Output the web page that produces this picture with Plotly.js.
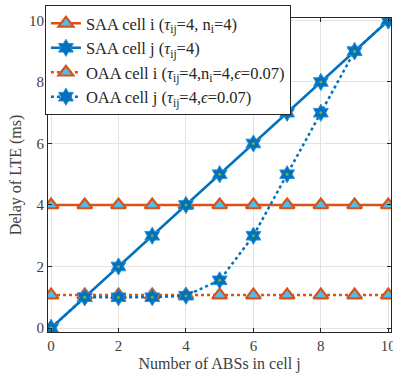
<!DOCTYPE html>
<html><head><meta charset="utf-8">
<script src="https://cdn.plot.ly/plotly-3.0.1.min.js"></script>
<style>html,body{margin:0;padding:0;background:#fff}#plot{width:393px;height:379px}</style>
</head><body><div id="plot"></div>
<script>
const xVals = [0,1,2,3,4,5,6,7,8,9,10];
const saaCellI = [4,4,4,4,4,4,4,4,4,4,4];
const saaCellJ = [0,1,2,3,4,5,6,7,8,9,10];
const oaaCellI = [1.07,1.07,1.07,1.07,1.07,1.07,1.07,1.07,1.07,1.07,1.07];
const oaaCellJ = [0,1,1,1,1.05,1.55,3,5,7,9,10];
const names = [
  'SAA cell i (<i>τ</i><sub>ij</sub>=4, n<sub>i</sub>=4)',
  'SAA cell j (<i>τ</i><sub>ij</sub>=4)',
  'OAA cell i (<i>τ</i><sub>ij</sub>=4,n<sub>i</sub>=4,<i>ϵ</i>=0.07)',
  'OAA cell j (<i>τ</i><sub>ij</sub>=4,<i>ϵ</i>=0.07)'
];
const FONT = 'Liberation Serif';
const orange = '#D95319', cyan = '#4DBEEE', blue = '#0072BD', green = '#77AC30';
const tri = {symbol:'triangle-up', size:13, color:cyan, line:{color:orange, width:2.2}};
const hex = {symbol:'hexagram', size:13, color:blue, line:{color:'#2a8fd6', width:1}};
const dot = {symbol:'circle', size:3, color:green, line:{width:0}};
const traces = [
  {x:xVals, y:saaCellI, name:names[0], mode:'lines+markers', line:{color:orange,width:2.5}, marker:tri},
  {x:xVals, y:saaCellJ, name:names[1], mode:'lines+markers', line:{color:blue,width:2.5}, marker:hex},
  {x:xVals, y:oaaCellI, name:names[2], mode:'lines+markers', line:{color:orange,width:2.5,dash:'dot'}, marker:tri},
  {x:xVals, y:oaaCellJ, name:names[3], mode:'lines+markers', line:{color:blue,width:2.5,dash:'dot'}, marker:hex},
  {x:xVals, y:saaCellJ, mode:'markers', marker:dot, showlegend:false, hoverinfo:'skip'},
  {x:xVals, y:oaaCellJ, mode:'markers', marker:dot, showlegend:false, hoverinfo:'skip'}
];
const axisCommon = {
  showgrid:true, gridcolor:'#e3e3e3', gridwidth:1, zeroline:false,
  showline:true, linecolor:'#262626', linewidth:1, mirror:'ticks',
  ticks:'inside', ticklen:4, tickcolor:'#262626',
  tickfont:{family:FONT, size:15, color:'#404040'}
};
const layout = {
  width:393, height:379,
  margin:{l:48, r:2, t:18, b:47},
  paper_bgcolor:'#fff', plot_bgcolor:'#fff',
  font:{family:FONT, color:'#262626'},
  xaxis:Object.assign({}, axisCommon, {range:[-0.09,10.08], tickvals:[0,2,4,6,8,10],
    ticklabeloverflow:'allow',
    title:{text:'Number of ABSs in cell j', font:{family:FONT, size:16, color:'#404040'}, standoff:4}}),
  yaxis:Object.assign({}, axisCommon, {range:[-0.13,10.08], tickvals:[0,2,4,6,8,10],
    title:{text:'Delay of LTE (ms)', font:{family:FONT, size:16, color:'#404040'}, standoff:3}}),
  legend:{x:-0.009, y:1.041, xanchor:'left', yanchor:'top', bgcolor:'#fff',
    bordercolor:'#262626', borderwidth:1, tracegroupgap:0, itemwidth:30,
    font:{family:FONT, size:16.5, color:'#262626'}},
  showlegend:true
};
Plotly.newPlot('plot', traces, layout, {displayModeBar:false, staticPlot:true});
</script></body></html>
